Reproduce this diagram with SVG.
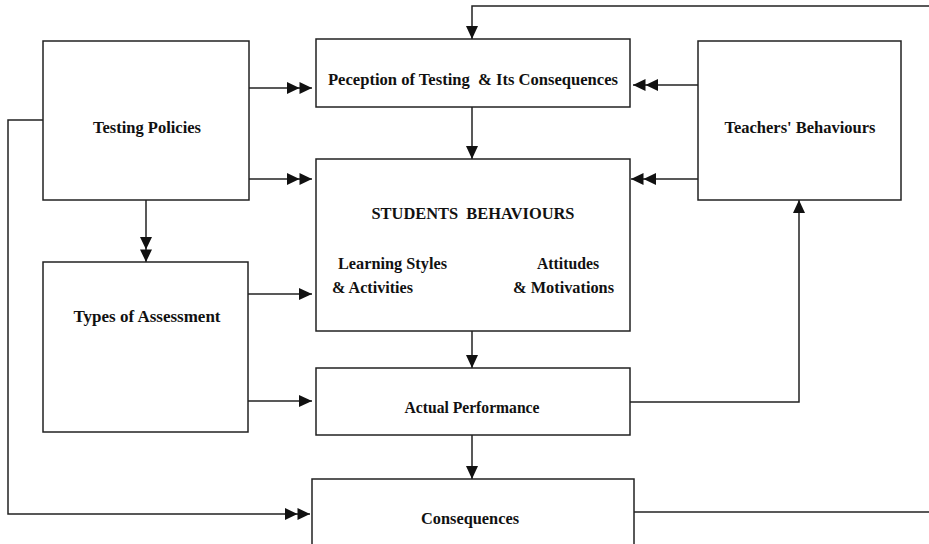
<svg xmlns="http://www.w3.org/2000/svg" width="929" height="544" viewBox="0 0 929 544">
<defs>
<marker id="a1" markerUnits="userSpaceOnUse" markerWidth="13" markerHeight="12" refX="13" refY="6" orient="auto"><path d="M0,0 L13,6 L0,12 z" fill="#111"/></marker>
<marker id="a2" markerUnits="userSpaceOnUse" markerWidth="25" markerHeight="12" refX="25" refY="6" orient="auto"><path d="M0,0 L12.5,6 L0,12 z M12.5,0 L25,6 L12.5,12 z" fill="#111"/></marker>
</defs>
<style>
.box{fill:#fff;stroke:#222;stroke-width:1.5}
.ln{fill:none;stroke:#222;stroke-width:1.5}
text{font-family:"Liberation Serif","Times New Roman",serif;font-weight:bold;font-size:16px;fill:#111}
.c{text-anchor:middle}
</style>
<rect width="929" height="544" fill="#fff"/>
<g id="connectors">
<path class="ln" d="M43,120 H8 V514 H310" marker-end="url(#a2)"/>
<path class="ln" d="M249,88 H312" marker-end="url(#a2)"/>
<path class="ln" d="M249,179 H312" marker-end="url(#a2)"/>
<path class="ln" d="M146,200 V262" marker-end="url(#a2)"/>
<path class="ln" d="M248,294 H312" marker-end="url(#a1)"/>
<path class="ln" d="M248,401 H312" marker-end="url(#a1)"/>
<path class="ln" d="M929,6 H472 V39" marker-end="url(#a1)"/>
<path class="ln" d="M472,107 V159" marker-end="url(#a1)"/>
<path class="ln" d="M472,331 V368" marker-end="url(#a1)"/>
<path class="ln" d="M472,435 V479" marker-end="url(#a1)"/>
<path class="ln" d="M698,85 H633" marker-end="url(#a2)"/>
<path class="ln" d="M698,179 H631" marker-end="url(#a2)"/>
<path class="ln" d="M630,402 H799 V200" marker-end="url(#a1)"/>
<path class="ln" d="M634,512 H929"/>
</g>
<g id="testing-policies">
<rect class="box" x="43" y="41" width="206" height="159"/>
<text class="c" x="147" y="133" textLength="108" lengthAdjust="spacingAndGlyphs">Testing Policies</text>
</g>
<g id="perception">
<rect class="box" x="316" y="39" width="314" height="68"/>
<text class="c" x="473" y="85" textLength="290" lengthAdjust="spacingAndGlyphs" xml:space="preserve">Peception of Testing  &amp; Its Consequences</text>
</g>
<g id="teachers">
<rect class="box" x="698" y="41" width="203" height="159"/>
<text class="c" x="800" y="133" textLength="151" lengthAdjust="spacingAndGlyphs">Teachers' Behaviours</text>
</g>
<g id="students">
<rect class="box" x="316" y="159" width="314" height="172"/>
<text class="c" x="473" y="219" textLength="203" lengthAdjust="spacingAndGlyphs" xml:space="preserve">STUDENTS  BEHAVIOURS</text>
<text x="338" y="269" textLength="109" lengthAdjust="spacingAndGlyphs">Learning Styles</text>
<text x="332" y="293" textLength="81" lengthAdjust="spacingAndGlyphs">&amp; Activities</text>
<text x="537" y="269" textLength="62" lengthAdjust="spacingAndGlyphs">Attitudes</text>
<text x="513" y="293" textLength="101" lengthAdjust="spacingAndGlyphs">&amp; Motivations</text>
</g>
<g id="types">
<rect class="box" x="43" y="262" width="205" height="170"/>
<text class="c" x="147" y="322" textLength="147" lengthAdjust="spacingAndGlyphs">Types of Assessment</text>
</g>
<g id="actual">
<rect class="box" x="316" y="368" width="314" height="67"/>
<text class="c" x="472" y="413" textLength="135" lengthAdjust="spacingAndGlyphs">Actual Performance</text>
</g>
<g id="consequences">
<rect class="box" x="312" y="479" width="322" height="80"/>
<text class="c" x="470" y="524" textLength="98" lengthAdjust="spacingAndGlyphs">Consequences</text>
</g>
</svg>
